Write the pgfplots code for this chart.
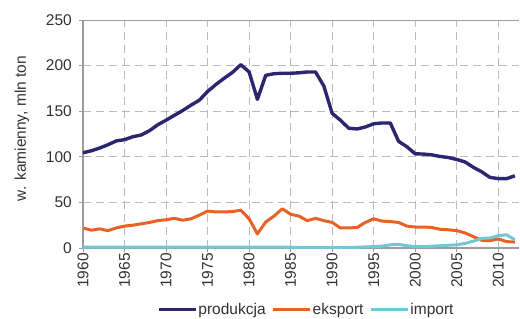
\documentclass[border=0pt]{standalone}
\usepackage{pgfplots}
\pgfplotsset{compat=1.18}
\usepackage{fontspec}
\setmainfont{Liberation Sans}
\definecolor{prod}{RGB}{43,38,112}
\definecolor{eks}{RGB}{232,98,38}
\definecolor{imp}{RGB}{112,200,214}
\definecolor{gridc}{RGB}{185,185,190}
\definecolor{axc}{RGB}{155,155,165}
\definecolor{txt}{RGB}{50,50,50}
\begin{document}
\begin{tikzpicture}[font=\fontsize{15.5bp}{18bp}\selectfont]
\begin{axis}[
  at={(0,0)}, anchor=south west,
  scale only axis, width=436bp, height=228bp,
  xmin=1960, xmax=2012.5, ymin=0, ymax=250,
  xtick={1960,1965,...,2010}, ytick={0,50,...,250},
  axis x line*=bottom, axis y line*=left,
  axis line style={axc, line width=1.3bp, -},
  grid=major,
  major grid style={gridc, dash pattern=on 8bp off 5bp, line width=0.9bp},
  tick align=outside, major tick length=4bp,
  tick style={axc, line width=0.9bp},
  /pgf/number format/1000 sep={},
  /pgf/number format/assume math mode=true,
  ticklabel style={text=txt},
  xticklabel style={rotate=90, anchor=east, inner sep=2bp, xshift=1bp},
  yticklabel style={inner sep=2bp, xshift=-5bp},
  ylabel={w. kamienny, mln ton},
  ylabel style={at={(axis description cs:-0.165,0.524)}, anchor=north, text=txt},
  legend columns=3,
  legend style={draw=none, fill=none, at={(axis description cs:0.511,-0.27)}, anchor=center,
    nodes={inner sep=1bp, text=txt},
    /tikz/every even column/.append style={column sep=5bp}},
  legend image code/.code={\draw[#1] (0bp,0bp) -- (37bp,0bp);},
]
\addplot[prod, line width=3.4bp, line join=round] coordinates {
(1960,104.4)(1961,106.6)(1962,109.6)(1963,113.2)(1964,117.4)(1965,118.8)(1966,122.0)(1967,123.9)
(1968,128.6)(1969,135.1)(1970,140.1)(1971,145.5)(1972,150.7)(1973,156.6)(1974,162.0)(1975,171.6)
(1976,179.3)(1977,186.1)(1978,192.6)(1979,201.0)(1980,193.1)(1981,163.0)(1982,189.3)(1983,191.1)
(1984,191.6)(1985,191.6)(1986,192.1)(1987,193.0)(1988,193.0)(1989,177.6)(1990,147.7)(1991,140.1)
(1992,131.3)(1993,130.5)(1994,132.7)(1995,136.2)(1996,137.1)(1997,137.1)(1998,117.0)(1999,111.0)
(2000,103.3)(2001,103.0)(2002,102.1)(2003,100.4)(2004,99.2)(2005,97.1)(2006,94.4)(2007,88.5)
(2008,83.6)(2009,77.4)(2010,76.1)(2011,76.0)(2012,79.2)};
\addlegendentry{produkcja}
\addplot[eks, line width=3bp, line join=round] coordinates {
(1960,22)(1961,19.5)(1962,21)(1963,19)(1964,22)(1965,24)(1966,25)(1967,26.5)(1968,28)(1969,30)
(1970,31)(1971,32.5)(1972,30.5)(1973,32)(1974,36)(1975,40.5)(1976,39.5)(1977,39.5)(1978,40)(1979,41.5)
(1980,32)(1981,15.5)(1982,28.5)(1983,35)(1984,43)(1985,37)(1986,35)(1987,30)(1988,32.5)(1989,30)
(1990,28)(1991,22)(1992,22)(1993,22.5)(1994,28)(1995,32)(1996,29.5)(1997,29)(1998,28)(1999,24)
(2000,23)(2001,23)(2002,22.5)(2003,20.5)(2004,20)(2005,19)(2006,16.5)(2007,12.5)(2008,8.5)(2009,8)
(2010,10)(2011,7)(2012,6.5)};
\addlegendentry{eksport}
\addplot[imp, line width=3bp, line join=round] coordinates {
(1960,1)(1961,1)(1962,1)(1963,1)(1964,1)(1965,1)(1966,1)(1967,1)(1968,1)(1969,1)
(1970,1)(1971,1)(1972,1)(1973,1)(1974,1)(1975,1)(1976,1)(1977,1)(1978,1)(1979,1)
(1980,1)(1981,1)(1982,1)(1983,1)(1984,1)(1985,0.8)(1986,0.6)(1987,0.5)(1988,0.5)(1989,0.5)
(1990,0.5)(1991,0.5)(1992,0.6)(1993,0.8)(1994,1.2)(1995,1.5)(1996,2)(1997,3.5)(1998,4)(1999,2.5)
(2000,1.5)(2001,1.5)(2002,2)(2003,2.5)(2004,3)(2005,3.5)(2006,5)(2007,7.5)(2008,10.5)(2009,11)
(2010,13.5)(2011,14.5)(2012,9)};
\addlegendentry{import}
\draw[axc, line width=1.3bp] (rel axis cs:0,1) -- (rel axis cs:1,1);
\end{axis}
\pgfresetboundingbox
\useasboundingbox (-83bp,-71bp) rectangle (437bp,248bp);
\end{tikzpicture}
\end{document}
